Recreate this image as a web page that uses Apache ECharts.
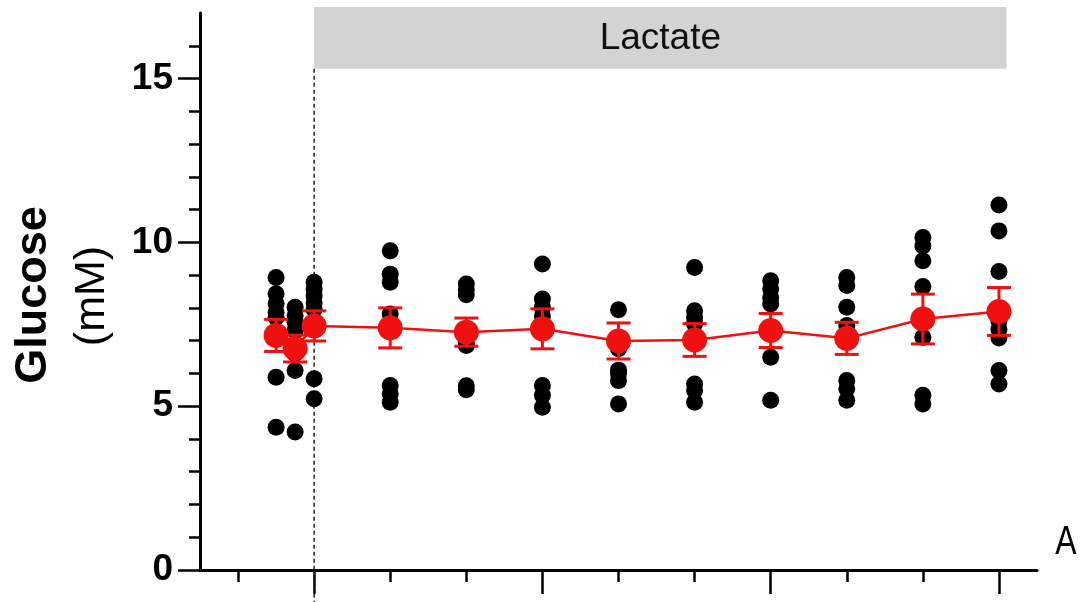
<!DOCTYPE html>
<html><head><meta charset="utf-8">
<script src="https://cdn.jsdelivr.net/npm/echarts@6/dist/echarts.min.js"></script>
<style>html,body{margin:0;padding:0;background:#fff}#c{width:1086px;height:602px}</style>
</head><body><div id="c"></div><script>
// ---- data ----
const times = [-10, -5, 0, 20, 40, 60, 80, 100, 120, 140, 160, 180];
const individualGlucose = [
  [8.93, 8.43, 8.13, 7.86, 7.71, 7.05, 5.88, 4.36],
  [8.02, 7.76, 7.56, 7.31, 6.90, 6.60, 6.09, 4.21],
  [8.78, 8.57, 8.36, 8.16, 7.96, 7.60, 5.84, 5.23],
  [9.74, 9.03, 8.78, 7.81, 7.30, 5.63, 5.38, 5.12],
  [8.73, 8.55, 8.40, 7.20, 6.90, 6.85, 5.62, 5.50],
  [9.34, 8.27, 8.02, 7.76, 7.30, 5.63, 5.33, 4.97],
  [7.94, 7.10, 6.90, 6.75, 6.10, 5.99, 5.78, 5.07],
  [9.23, 7.91, 7.71, 7.51, 7.00, 5.68, 5.48, 5.12],
  [8.83, 8.58, 8.32, 8.12, 7.30, 7.20, 6.49, 5.18],
  [8.93, 8.68, 8.02, 7.46, 7.00, 5.78, 5.53, 5.18],
  [10.15, 9.89, 9.44, 8.65, 7.60, 7.10, 5.33, 5.07],
  [11.14, 10.35, 9.11, 7.60, 7.35, 7.08, 6.09, 5.68]
];
const meanGlucose = [7.16, 6.76, 7.45, 7.39, 7.26, 7.36, 6.99, 7.02, 7.31, 7.07, 7.66, 7.89];
const semGlucose  = [0.49, 0.41, 0.46, 0.61, 0.43, 0.61, 0.55, 0.50, 0.52, 0.49, 0.76, 0.73];
const xMajorTicks = [0, 60, 120, 180];
const xMinorTicks = [-20, 20, 40, 80, 100, 140, 160];
const yMajorTicks = [0, 5, 10, 15];
const yMinorTicks = [1, 2, 3, 4, 6, 7, 8, 9, 11, 12, 13, 14, 16];
const lactateStart = 0, lactateEnd = 182;
const lactateBoxBottom = 15.3, lactateBoxTop = 17.18;
const treatmentLabel = 'Lactate';
const yTitle = 'Glucose', yUnit = '(mM)', panelTag = 'A';

// ---- chart ----
const FONT = '"Liberation Sans", Arial, Helvetica, sans-serif';
const RED = '#f01010';
const chart = echarts.init(document.getElementById('c'), null, {renderer: 'canvas'});

const scatterData = [];
individualGlucose.forEach((arr, i) => arr.forEach(v => scatterData.push([times[i], v])));
const meanData = times.map((t, i) => [t, meanGlucose[i]]);
const errData = times.map((t, i) => [t, meanGlucose[i] - semGlucose[i], meanGlucose[i] + semGlucose[i]]);

const axBase = {type: 'value', splitLine: {show: false}, axisLabel: {show: false}};
chart.setOption({
  animation: false,
  backgroundColor: '#fff',
  grid: {left: 200, right: 49, top: 13, bottom: 32, containLabel: false},
  xAxis: [
    Object.assign({}, axBase, {min: -30, max: 190, position: 'bottom',
      axisLine: {show: true, onZero: false, lineStyle: {color: '#000', width: 3}},
      axisTick: {show: true, customValues: xMinorTicks, length: 12, lineStyle: {color: '#000', width: 2.5}}}),
    Object.assign({}, axBase, {min: -30, max: 190, position: 'bottom',
      axisLine: {show: false, onZero: false},
      axisTick: {show: true, customValues: xMajorTicks, length: 24, lineStyle: {color: '#000', width: 2.5}}})
  ],
  yAxis: [
    Object.assign({}, axBase, {min: 0, max: 17, position: 'left',
      axisLine: {show: true, onZero: false, lineStyle: {color: '#000', width: 3}},
      axisTick: {show: true, customValues: yMajorTicks, length: 22, lineStyle: {color: '#000', width: 2.5}},
      axisLabel: {show: true, customValues: yMajorTicks, margin: 27, color: '#000', fontFamily: FONT, fontWeight: 'bold', fontSize: 37}}),
    Object.assign({}, axBase, {min: 0, max: 17, position: 'left',
      axisLine: {show: false, onZero: false},
      axisTick: {show: true, customValues: yMinorTicks, length: 11, lineStyle: {color: '#000', width: 2.5}}})
  ],
  series: [
    {type: 'scatter', data: scatterData, symbol: 'circle', symbolSize: 17,
     itemStyle: {color: '#000', opacity: 1}, z: 2, silent: true},
    {type: 'line', data: meanData, symbol: 'circle', symbolSize: 25, z: 5,
     lineStyle: {color: RED, width: 2.5}, itemStyle: {color: RED, opacity: 1}},
    {type: 'custom', data: errData, z: 4, clip: false,
     renderItem: function (params, api) {
       const x = api.value(0);
       const lo = api.coord([x, api.value(1)]);
       const hi = api.coord([x, api.value(2)]);
       const hw = 12;
       const st = {stroke: RED, lineWidth: 3};
       return {type: 'group', children: [
         {type: 'line', shape: {x1: lo[0], y1: lo[1], x2: hi[0], y2: hi[1]}, style: st},
         {type: 'line', shape: {x1: lo[0]-hw, y1: lo[1], x2: lo[0]+hw, y2: lo[1]}, style: st},
         {type: 'line', shape: {x1: hi[0]-hw, y1: hi[1], x2: hi[0]+hw, y2: hi[1]}, style: st}
       ]};
     }}
  ]
});

const pxA = chart.convertToPixel({xAxisIndex: 0, yAxisIndex: 0}, [lactateStart, lactateBoxTop]);
const pxB = chart.convertToPixel({xAxisIndex: 0, yAxisIndex: 0}, [lactateEnd, lactateBoxBottom]);
chart.setOption({
  graphic: [
    {type: 'rect', shape: {x: pxA[0], y: pxA[1], width: pxB[0] - pxA[0], height: pxB[1] - pxA[1]},
     style: {fill: '#d3d3d3'}, z: 1},
    {type: 'text', x: (pxA[0] + pxB[0]) / 2, y: (pxA[1] + pxB[1]) / 2 + 1, z: 2,
     style: {text: treatmentLabel, fontFamily: FONT, fontSize: 37, fill: '#111', align: 'center', verticalAlign: 'middle'}},
    {type: 'line', shape: {x1: pxA[0], y1: pxB[1], x2: pxA[0], y2: 602}, z: 1,
     style: {stroke: '#222', lineWidth: 1.5, lineDash: [4, 3]}},
    {type: 'text', x: 34, y: 295, rotation: Math.PI / 2,
     style: {text: yTitle, fontFamily: FONT, fontWeight: 'bold', fontSize: 45, fill: '#000', align: 'center', verticalAlign: 'middle'}},
    {type: 'text', x: 92, y: 296, rotation: Math.PI / 2,
     style: {text: yUnit, fontFamily: FONT, fontSize: 43, fill: '#000', align: 'center', verticalAlign: 'middle'}},
    {type: 'text', x: 1066, y: 543, scaleX: 0.8,
     style: {text: panelTag, fontFamily: FONT, fontSize: 40, fill: '#000', align: 'center', verticalAlign: 'middle'}}
  ]
});
</script></body></html>
